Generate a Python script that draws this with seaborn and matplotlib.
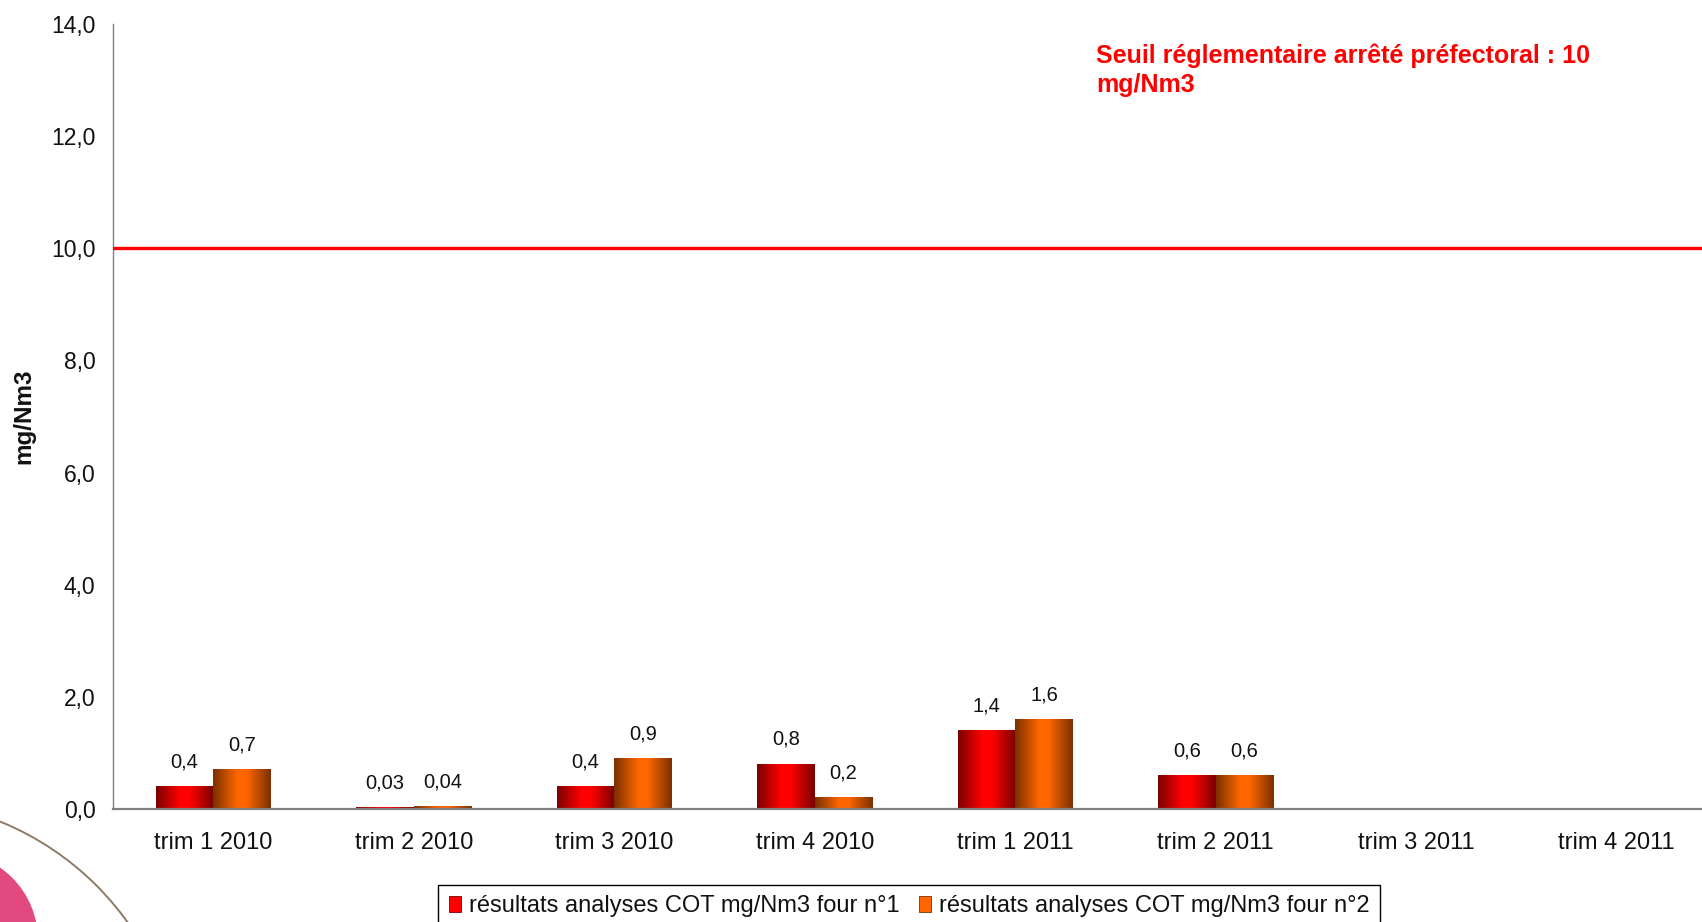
import numpy as np
import pandas as pd
import matplotlib
matplotlib.use("Agg")
import matplotlib.pyplot as plt
import seaborn as sns
from matplotlib.colors import LinearSegmentedColormap
from matplotlib.patches import Patch, Circle
from matplotlib.ticker import FixedLocator, FuncFormatter

# --- data -------------------------------------------------------------
categories = ["trim 1 2010", "trim 2 2010", "trim 3 2010", "trim 4 2010",
              "trim 1 2011", "trim 2 2011", "trim 3 2011", "trim 4 2011"]
four_1 = [0.4, 0.03, 0.4, 0.8, 1.4, 0.6, np.nan, np.nan]
four_2 = [0.7, 0.04, 0.9, 0.2, 1.6, 0.6, np.nan, np.nan]
series_names = ["résultats analyses COT mg/Nm3 four n°1",
                "résultats analyses COT mg/Nm3 four n°2"]
threshold = 10
threshold_label = "Seuil réglementaire arrêté préfectoral : 10\nmg/Nm3"
y_ticks = [0, 2, 4, 6, 8, 10, 12, 14]
y_label = "mg/Nm3"

df = pd.DataFrame({
    "periode": categories * 2,
    "valeur": four_1 + four_2,
    "serie": [series_names[0]] * len(categories) + [series_names[1]] * len(categories),
})

# --- style ------------------------------------------------------------
sns.set_theme(style="white")
plt.rcParams["font.family"] = ["Liberation Sans", "DejaVu Sans"]

W, H = 1702, 922
fig = plt.figure(figsize=(W / 100, H / 100), dpi=100)
fig.patch.set_facecolor("white")

# logo fragment in the lower-left corner
deco = fig.add_axes([0, 0, 1, 1], zorder=-5)
deco.set_xlim(0, W)
deco.set_ylim(H, 0)
deco.axis("off")
deco.add_patch(Circle((-50, 940), 88, facecolor="#E2497F", edgecolor="none"))
deco.add_patch(Circle((-110, 1092), 292, facecolor="none", edgecolor="#8C7B66", lw=1.4))

# main axes: 8 categories of ~200 px, last one running past the right edge
ax = fig.add_axes([113 / W, 113 / H, 1604 / W, 785 / H])
ax.patch.set_alpha(0)

bright = ["#FF0000", "#FF6600"]
dark = ["#7A0000", "#7A3000"]

sns.barplot(data=df, x="periode", y="valeur", hue="serie",
            order=categories, hue_order=series_names,
            palette=bright, saturation=1, width=0.575, gap=0,
            errorbar=None, legend=False, ax=ax)

# shaded (cylinder-like) fill on every bar
for i, cont in enumerate(ax.containers):
    cmap = LinearSegmentedColormap.from_list(
        f"shade{i}", [(0, dark[i]), (0.42, bright[i]), (0.58, bright[i]), (1, dark[i])])
    for p in cont:
        h = p.get_height()
        if not np.isfinite(h):
            continue
        x0, w = p.get_x(), p.get_width()
        ax.imshow(np.linspace(0, 1, 256)[None, :], extent=(x0, x0 + w, 0, h),
                  cmap=cmap, aspect="auto", interpolation="bilinear",
                  zorder=p.get_zorder() + 0.01)
    labels = [f"{p.get_height():g}".replace(".", ",") for p in cont]
    ax.bar_label(cont, labels=labels, padding=11, fontsize=14.5, color="#111111")

# threshold line
ax.axhline(threshold, color="#FF0000", lw=2.4, zorder=4)

# axes formatting
ax.set_xlim(-0.5, len(categories) - 0.5)
ax.set_ylim(0, 14)
ax.set_yticks(y_ticks)
ax.yaxis.set_major_formatter(FuncFormatter(lambda v, _: f"{v:.1f}".replace(".", ",")))
ax.xaxis.set_minor_locator(FixedLocator(np.arange(-0.5, len(categories), 1.0)))
ax.tick_params(axis="x", which="major", length=0, pad=16.6, labelsize=17, labelcolor="#111111")
ax.tick_params(axis="x", which="minor", length=4, width=1, color="#555555", direction="out")
ax.tick_params(axis="y", which="major", length=4.3, width=1, color="#808080",
               direction="out", pad=8.3, labelsize=16.5, labelcolor="#111111")
for side in ("top", "right"):
    ax.spines[side].set_visible(False)
ax.spines["left"].set_color("#808080")
ax.spines["left"].set_linewidth(1.0)
ax.spines["bottom"].set_color("#808080")
ax.spines["bottom"].set_linewidth(1.6)
ax.set_xlabel("")
ax.set_ylabel(y_label, fontsize=17.5, fontweight="bold", color="#111111")
ax.yaxis.label.set_va("center")
ax.yaxis.set_label_coords((24 - 113) / 1604, (809 - 416) / 785)

# threshold caption
fig.text(1096 / W, 1 - 44 / H, threshold_label, color="#FF0000", fontsize=18,
         fontweight="bold", ha="left", va="top", linespacing=1.25)

# legend below the plot
handles = [Patch(facecolor=c, edgecolor=d, lw=0.6) for c, d in zip(bright, dark)]
leg = fig.legend(handles, series_names, loc="upper left",
                 bbox_to_anchor=(438.5 / W, 1 - 884.5 / H), bbox_transform=fig.transFigure,
                 ncol=2, fontsize=17, frameon=True, fancybox=False, shadow=False,
                 borderaxespad=0, borderpad=0.45, handlelength=0.5, handleheight=0.65,
                 handletextpad=0.35, columnspacing=0.8)
leg.get_frame().set_edgecolor("#000000")
leg.get_frame().set_linewidth(1.0)
leg.get_frame().set_alpha(1)
for t in leg.get_texts():
    t.set_color("#111111")

fig.savefig("out.png", dpi=100)
